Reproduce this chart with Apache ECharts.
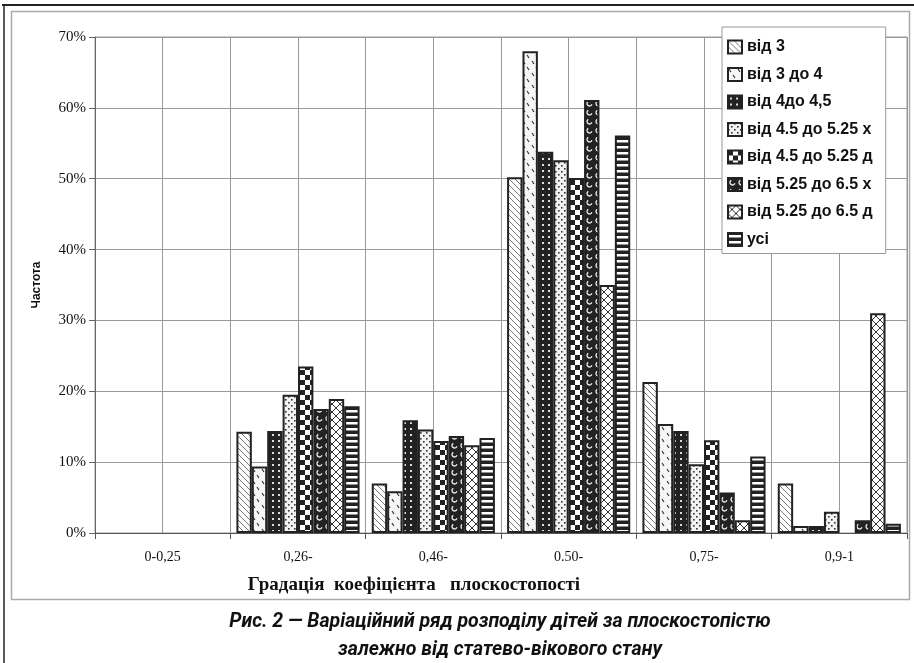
<!DOCTYPE html>
<html><head><meta charset="utf-8">
<script src="https://cdn.jsdelivr.net/npm/echarts@6/dist/echarts.min.js"></script>
<style>html,body{margin:0;padding:0;background:#fff}#c{width:914px;height:663px}</style>
</head><body><div id="c"></div>
<script>
const categories = ['0-0,25', '0,26-', '0,46-', '0.50-', '0,75-', '0,9-1'];
const seriesNames = ['від 3', 'від 3 до 4', 'від 4до 4,5', 'від 4.5 до 5.25 х', 'від 4.5 до 5.25 д', 'від 5.25 до 6.5 х', 'від 5.25 до 6.5 д', 'усі'];
const s1 = [0, 14.3, 7.0, 50.2, 21.3, 7.0];
const s2 = [0, 9.4, 5.9, 68.0, 15.4, 1.0];
const s3 = [0, 14.4, 15.9, 53.8, 14.4, 1.0];
const s4 = [0, 19.5, 14.6, 52.6, 9.7, 3.0];
const s5 = [0, 23.5, 13.0, 50.1, 13.1, 0];
const s6 = [0, 17.5, 13.7, 61.1, 5.7, 1.8];
const s7 = [0, 18.9, 12.4, 35.0, 1.8, 31.0];
const s8 = [0, 17.9, 13.4, 56.1, 10.8, 1.3];
const yTicks = [0, 10, 20, 30, 40, 50, 60, 70];
const xTitle = 'Градація  коефіцієнта   плоскостопості';
const caption = 'Рис. 2 — Варіаційний ряд розподілу дітей за плоскостопістю\nзалежно від статево-вікового стану';

function mk(w, h, draw) {
  const c = document.createElement('canvas');
  c.width = w; c.height = h;
  const g = c.getContext('2d');
  draw(g, w, h);
  return { image: c, repeat: 'repeat' };
}
const patterns = [
  mk(6, 6, (g, w, h) => { g.fillStyle = '#fff'; g.fillRect(0,0,w,h); g.strokeStyle = '#777'; g.lineWidth = 1;
    g.beginPath(); g.moveTo(-1,-1); g.lineTo(7,7); g.moveTo(-1,5); g.lineTo(1,7); g.moveTo(5,-1); g.lineTo(7,1); g.stroke(); }),
  mk(9, 12, (g, w, h) => { g.fillStyle = '#f6f6f6'; g.fillRect(0,0,w,h); g.strokeStyle = '#333'; g.lineWidth = 1.2;
    g.beginPath(); g.moveTo(1,1); g.lineTo(3,4); g.moveTo(5,7); g.lineTo(7,10); g.stroke(); }),
  mk(6, 6, (g, w, h) => { g.fillStyle = '#222'; g.fillRect(0,0,w,h); g.fillStyle = '#ddd'; g.fillRect(2,2,2,2); }),
  mk(6, 6, (g, w, h) => { g.fillStyle = '#f2f2f2'; g.fillRect(0,0,w,h); g.fillStyle = '#333'; g.fillRect(0,0,1.6,1.6); g.fillRect(3,3,1.6,1.6); }),
  mk(10, 10, (g, w, h) => { g.fillStyle = '#fff'; g.fillRect(0,0,w,h); g.fillStyle = '#222'; g.fillRect(0,0,5,5); g.fillRect(5,5,5,5); }),
  mk(9, 9, (g, w, h) => { g.fillStyle = '#222'; g.fillRect(0,0,w,h); g.strokeStyle = '#eee'; g.lineWidth = 1.3;
    g.beginPath(); g.arc(4.5, 4.5, 2.5, 0.3, 4.2); g.stroke(); }),
  mk(8, 8, (g, w, h) => { g.fillStyle = '#fff'; g.fillRect(0,0,w,h); g.strokeStyle = '#333'; g.lineWidth = 1;
    g.beginPath(); g.moveTo(0,0); g.lineTo(8,8); g.moveTo(8,0); g.lineTo(0,8); g.stroke(); }),
  mk(6, 6, (g, w, h) => { g.fillStyle = '#222'; g.fillRect(0,0,w,h); g.fillStyle = '#fff'; g.fillRect(0,2,w,2.5); })
];
const seriesData = [s1, s2, s3, s4, s5, s6, s7, s8];

const chart = echarts.init(document.getElementById('c'), null, { renderer: 'canvas' });
const serif = '"Liberation Serif", "Times New Roman", serif';
const sans = '"Liberation Sans", Arial, sans-serif';
chart.setOption({
  animation: false,
  backgroundColor: '#fff',
  grid: { left: 95, right: 7, top: 37, bottom: 130, show: true, borderColor: '#999', borderWidth: 1, containLabel: false },
  legend: {
    orient: 'vertical', left: 722, top: 27, padding: [12, 13, 6, 5],
    itemWidth: 14, itemHeight: 13, itemGap: 11.5,
    backgroundColor: '#fff', borderColor: '#999', borderWidth: 1, borderRadius: 0,
    icon: 'rect',
    textStyle: { fontFamily: sans, fontSize: 16, fontWeight: 'bold', color: '#111', lineHeight: 16 },
    data: seriesNames
  },
  xAxis: [
    {
      type: 'category', data: categories, position: 'bottom',
      axisLine: { lineStyle: { color: '#555', width: 1 } },
      axisTick: { show: true, length: 6, alignWithLabel: false, lineStyle: { color: '#555' } },
      axisLabel: { fontFamily: serif, fontSize: 14, color: '#111', margin: 17 },
      splitLine: { show: false }
    },
    {
      type: 'value', min: 0, max: 12, interval: 1, position: 'top',
      axisLine: { show: false }, axisTick: { show: false }, axisLabel: { show: false },
      splitLine: { show: true, lineStyle: { color: '#999', width: 1 } }
    }
  ],
  yAxis: {
    type: 'value', min: 0, max: 70, interval: 10,
    axisLine: { show: true, lineStyle: { color: '#666' } },
    axisTick: { show: true, length: 6, lineStyle: { color: '#666' } },
    axisLabel: { fontFamily: serif, fontSize: 15, color: '#111', margin: 9, formatter: v => yTicks.includes(v) ? v + '%' : '' },
    splitLine: { show: true, lineStyle: { color: '#999', width: 1 } },
    name: 'Частота', nameLocation: 'middle', nameGap: 52, nameRotate: 90,
    nameTextStyle: { fontFamily: sans, fontSize: 12, fontWeight: 'bold', color: '#111' }
  },
  series: seriesNames.map((n, i) => ({
    name: n, type: 'bar', xAxisIndex: 0,
    data: seriesData[i].map(v => v === 0 ? { value: 0, itemStyle: { borderWidth: 0 } } : v),
    barGap: '0%', barCategoryGap: '9%',
    itemStyle: { color: patterns[i], borderColor: '#222', borderWidth: 2 },
    emphasis: { disabled: true }
  })),
  graphic: [
    { type: 'line', shape: { x1: 2, y1: 5, x2: 914, y2: 5 }, style: { stroke: '#222', lineWidth: 2 }, silent: true },
    { type: 'line', shape: { x1: 4, y1: 4, x2: 4, y2: 663 }, style: { stroke: '#222', lineWidth: 1.5 }, silent: true },
    { type: 'rect', shape: { x: 11.5, y: 11.5, width: 898, height: 588 }, style: { fill: 'none', stroke: '#aaa', lineWidth: 1.5 }, silent: true, z: -1 },
    { type: 'text', x: 414, y: 585, style: { text: xTitle, font: 'bold 19px ' + serif, fill: '#111', textAlign: 'center', textVerticalAlign: 'middle' } },
    { type: 'text', x: 500, y: 608, style: { text: caption, font: 'italic bold 19.5px Roboto, sans-serif', fill: '#111', textAlign: 'center', lineHeight: 28 } }
  ]
});
</script></body></html>
